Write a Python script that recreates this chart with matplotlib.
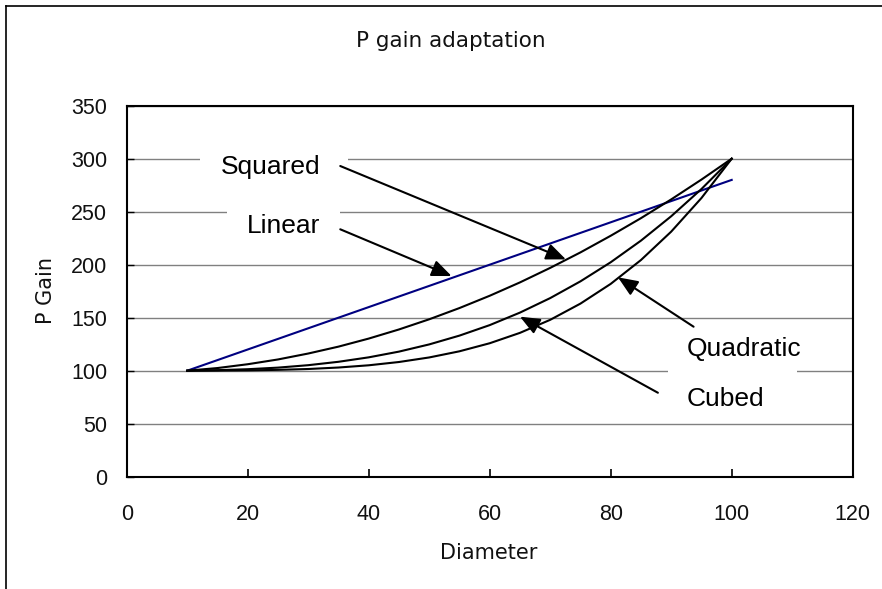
import matplotlib
matplotlib.use("Agg")
import matplotlib.pyplot as plt
from matplotlib.lines import Line2D
from matplotlib.patches import Rectangle

# ---- data ----
diameter = [10, 15, 20, 25, 30, 35, 40, 45, 50, 55, 60, 65, 70, 75, 80, 85, 90, 95, 100]
linear = [100, 110, 120, 130, 140, 150, 160, 170, 180, 190, 200, 210, 220, 230, 240, 250, 260, 270, 280]
squared = [100, 102.5, 106.1, 110.6, 116.2, 122.7, 130.3, 138.9, 148.5, 159.1, 170.7, 183.3,
           197.0, 211.6, 227.3, 243.9, 261.6, 280.3, 300]
cubed = [100, 100.5, 101.4, 102.9, 105.2, 108.4, 112.6, 118.0, 124.8, 133.1, 143.0, 154.8,
         168.5, 184.3, 202.3, 222.7, 245.7, 271.4, 300]
quadratic = [100, 100.1, 100.3, 100.8, 101.6, 103.0, 105.1, 108.2, 112.5, 118.3, 125.9, 135.7,
             148.0, 163.3, 181.9, 204.4, 231.2, 262.9, 300]

title = "P gain adaptation"
xlabel = "Diameter"
ylabel = "P Gain"
xticks = [0, 20, 40, 60, 80, 100, 120]
yticks = [0, 50, 100, 150, 200, 250, 300, 350]

# annotation labels
labels = ["Squared", "Linear", "Quadratic", "Cubed"]
label_pos = [(15.6, 285.6), (19.8, 229.9), (92.6, 113.9), (92.6, 66.7)]
arrow_start = [(35.3, 293.1), (35.3, 233.4), (93.7, 141.5), (87.8, 79.2)]
arrow_tip = [(72.6, 205.0), (53.7, 189.3), (81.2, 188.1), (65.0, 151.0)]
# white text-box backgrounds (x0, x1, y0, y1) in axis units
label_boxes = [(12.1, 36.6, 275.2, 312.9), (16.6, 35.3, 223.3, 260.8),
               None, (89.5, 110.8, 61.0, 105.4)]

W, H = 882, 589
fig = plt.figure(figsize=(W / 100, H / 100), dpi=100)
fig.patch.set_facecolor("white")

# figure frame (cropped at right and bottom in the reference)
fig.add_artist(Line2D([6 / W, 6 / W], [0, 1 - 6 / H], color="black", lw=1.2))
fig.add_artist(Line2D([6 / W, 1.01], [1 - 6 / H, 1 - 6 / H], color="black", lw=1.2))

ax = fig.add_axes([126.7 / W, (H - 476.7) / H, (852.7 - 126.7) / W, (476.7 - 105.7) / H])
ax.set_xlim(0, 120)
ax.set_ylim(0, 350)
ax.set_xticks(xticks)
ax.set_yticks(yticks)
ax.set_xticklabels([str(v) for v in xticks])
ax.set_yticklabels([str(v) for v in yticks])
for s in ax.spines.values():
    s.set_color("black")
    s.set_linewidth(1.5)
ax.tick_params(axis="x", direction="in", length=5.5, width=1.2, pad=20,
               labelsize=15.5, labelcolor="#111111")
ax.tick_params(axis="y", direction="in", length=5, width=1.0, pad=14,
               labelsize=15.5, labelcolor="#111111")
for lab in ax.get_xticklabels() + ax.get_yticklabels():
    lab.set_family(["Liberation Sans", "DejaVu Sans"])
ax.yaxis.grid(True, color="#808080", lw=1.0)
ax.set_axisbelow(True)

ax.plot(diameter, linear, color="#000080", lw=1.5, zorder=3)
ax.plot(diameter, squared, color="black", lw=1.5, zorder=3)
ax.plot(diameter, cubed, color="black", lw=1.5, zorder=3)
ax.plot(diameter, quadratic, color="black", lw=1.5, zorder=3)

for txt, (tx, ty), st, tp, bx in zip(labels, label_pos, arrow_start, arrow_tip, label_boxes):
    if bx is not None:
        ax.add_patch(Rectangle((bx[0], bx[2]), bx[1] - bx[0], bx[3] - bx[2],
                               facecolor="white", edgecolor="none", zorder=1.5,
                               clip_on=False))
    ax.text(tx, ty, txt, ha="left", va="baseline", fontsize=19,
            family=["Liberation Sans", "DejaVu Sans"], color="black", zorder=2)
    ax.annotate("", xy=tp, xytext=st, zorder=4,
                arrowprops=dict(arrowstyle="-|>,head_length=0.6,head_width=0.25",
                                mutation_scale=20, color="black", lw=1.5,
                                shrinkA=0, shrinkB=0))

fig.text(450.5 / W, 1 - 46.7 / H, title, ha="center", va="baseline", fontsize=15.5,
         family="DejaVu Sans", color="#111111")
fig.text(489 / W, 1 - 559 / H, xlabel, ha="center", va="baseline", fontsize=15,
         family="DejaVu Sans", color="#111111")
fig.text(46.5 / W, 1 - 291 / H, ylabel, ha="center", va="center", rotation=90,
         fontsize=15, family="DejaVu Sans", color="#111111")

fig.savefig("out.png", dpi=100, facecolor="white")
